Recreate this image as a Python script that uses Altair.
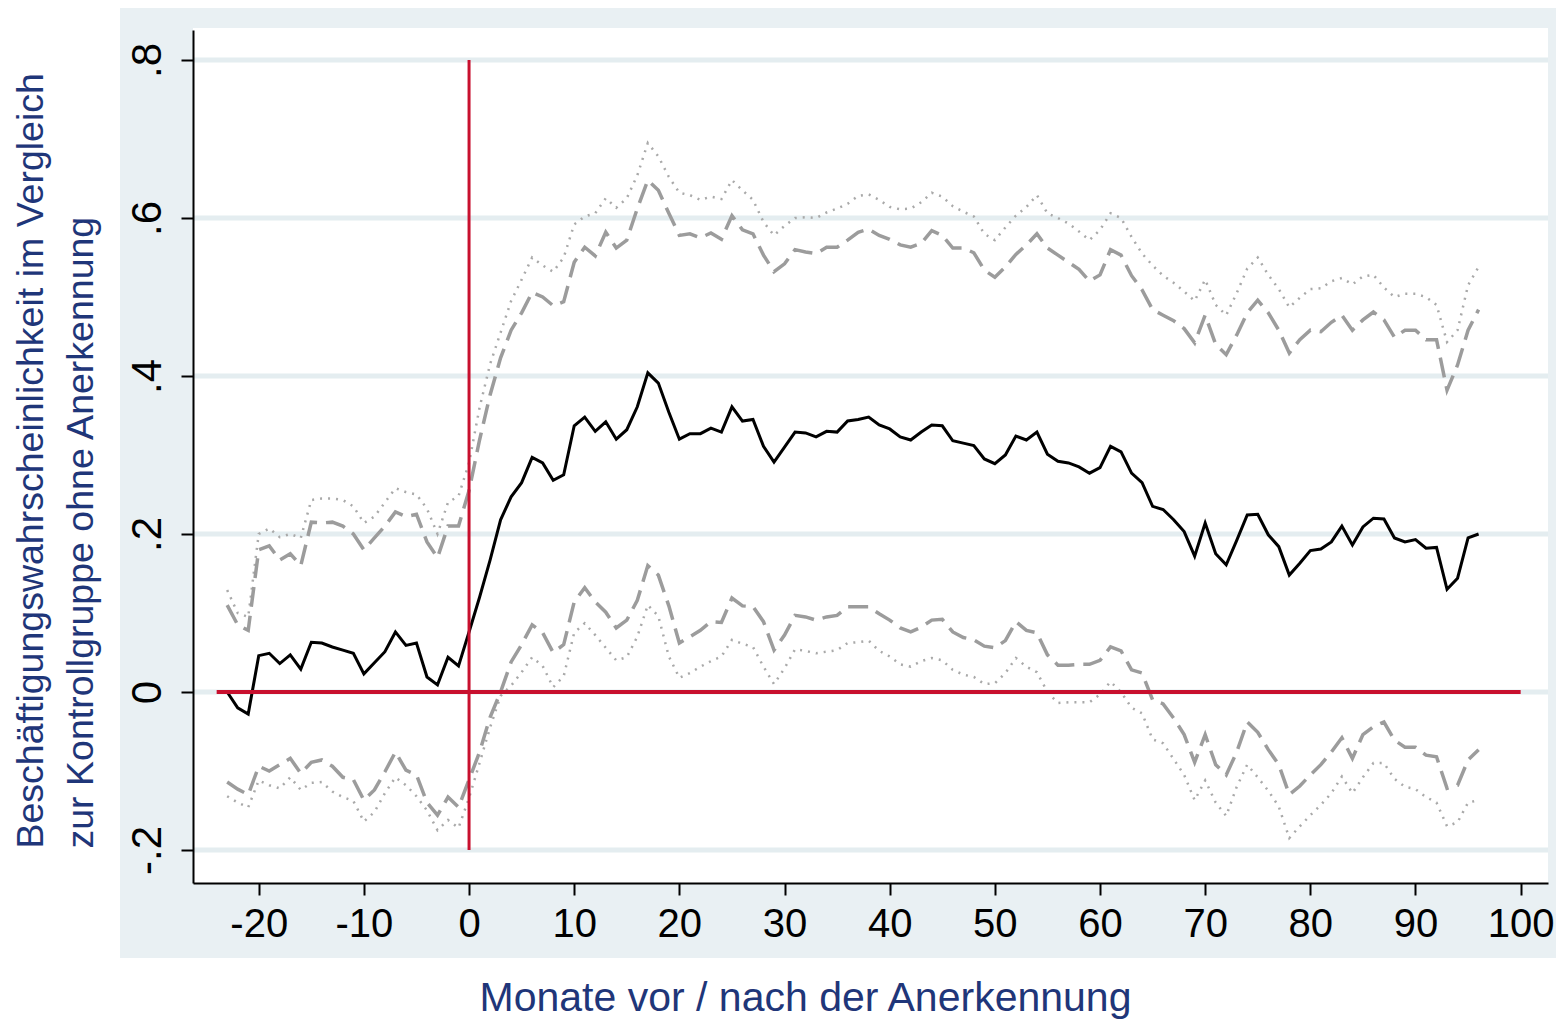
import altair as alt
import pandas as pd

# ---------------- data ----------------
months = list(range(-23, 97))

main = [0.0, -0.02, -0.028, 0.046, 0.049, 0.036, 0.047, 0.029, 0.063, 0.062,
        0.057, 0.053, 0.049, 0.023, 0.037, 0.051, 0.076, 0.059, 0.062, 0.019,
        0.009, 0.044, 0.033, 0.076, 0.12, 0.167, 0.218, 0.247, 0.265, 0.297,
        0.29, 0.268, 0.275, 0.337, 0.348, 0.33, 0.342, 0.32, 0.332, 0.361,
        0.404, 0.391, 0.354, 0.32, 0.327, 0.327, 0.334, 0.329, 0.361, 0.343,
        0.345, 0.311, 0.291, 0.31, 0.329, 0.328, 0.323, 0.33, 0.329, 0.343,
        0.345, 0.348, 0.338, 0.333, 0.323, 0.319, 0.329, 0.338, 0.337, 0.318,
        0.315, 0.312, 0.295, 0.289, 0.3, 0.324, 0.319, 0.329, 0.301, 0.292,
        0.29, 0.285, 0.277, 0.284, 0.311, 0.304, 0.277, 0.265, 0.235, 0.231,
        0.218, 0.203, 0.172, 0.214, 0.175, 0.161, 0.192, 0.224, 0.225, 0.199,
        0.184, 0.148, 0.163, 0.179, 0.181, 0.19, 0.21, 0.186, 0.209, 0.22,
        0.219, 0.195, 0.19, 0.193, 0.182, 0.183, 0.13, 0.144, 0.195, 0.2]

hi90 = [0.11, 0.085, 0.078, 0.18, 0.185, 0.167, 0.175, 0.16, 0.215, 0.214,
        0.215, 0.21, 0.2, 0.18, 0.195, 0.21, 0.228, 0.222, 0.225, 0.19,
        0.17, 0.21, 0.21, 0.255, 0.319, 0.376, 0.423, 0.458, 0.48, 0.506,
        0.5, 0.489, 0.494, 0.544, 0.563, 0.552, 0.582, 0.562, 0.572, 0.612,
        0.648, 0.635, 0.606, 0.578, 0.58, 0.575, 0.581, 0.573, 0.603, 0.585,
        0.58, 0.553, 0.532, 0.542, 0.56, 0.557, 0.555, 0.563, 0.563, 0.572,
        0.582, 0.586, 0.578, 0.573, 0.566, 0.563, 0.568, 0.584, 0.578, 0.562,
        0.562, 0.556, 0.534, 0.525, 0.538, 0.554, 0.566, 0.58, 0.562, 0.553,
        0.544, 0.535, 0.52, 0.528, 0.56, 0.553, 0.527, 0.509, 0.484, 0.477,
        0.47, 0.46, 0.442, 0.477, 0.44, 0.427, 0.452, 0.48, 0.496, 0.48,
        0.458, 0.429, 0.446, 0.458, 0.456, 0.468, 0.477, 0.458, 0.471, 0.481,
        0.471, 0.449, 0.458, 0.458, 0.446, 0.446, 0.382, 0.414, 0.458, 0.484]

hi95 = [0.129, 0.1, 0.095, 0.2, 0.207, 0.196, 0.2, 0.195, 0.243, 0.245,
        0.245, 0.243, 0.235, 0.214, 0.222, 0.24, 0.258, 0.253, 0.25, 0.232,
        0.2, 0.24, 0.248, 0.29, 0.36, 0.415, 0.455, 0.495, 0.522, 0.55,
        0.54, 0.532, 0.55, 0.592, 0.602, 0.606, 0.625, 0.613, 0.625, 0.654,
        0.695, 0.678, 0.652, 0.632, 0.629, 0.623, 0.627, 0.624, 0.648, 0.635,
        0.623, 0.595, 0.578, 0.59, 0.6, 0.601, 0.6, 0.607, 0.612, 0.618,
        0.628, 0.63, 0.623, 0.614, 0.611, 0.612, 0.62, 0.632, 0.627, 0.615,
        0.608, 0.602, 0.58, 0.572, 0.588, 0.603, 0.614, 0.629, 0.606, 0.6,
        0.593, 0.583, 0.572, 0.585, 0.606, 0.6, 0.576, 0.555, 0.54, 0.527,
        0.518, 0.507, 0.495, 0.522, 0.49, 0.477, 0.505, 0.536, 0.55, 0.528,
        0.51, 0.487, 0.499, 0.51, 0.511, 0.52, 0.524, 0.516, 0.526, 0.528,
        0.512, 0.5, 0.504, 0.504, 0.5, 0.49, 0.443, 0.458, 0.515, 0.538]

lo90 = [-0.114, -0.123, -0.13, -0.094, -0.1, -0.092, -0.084, -0.103, -0.089, -0.086,
        -0.094, -0.108, -0.111, -0.137, -0.124, -0.101, -0.076, -0.099, -0.105, -0.14,
        -0.156, -0.133, -0.146, -0.111, -0.076, -0.032, 0.0, 0.038, 0.06, 0.085,
        0.075, 0.05, 0.06, 0.114, 0.132, 0.114, 0.101, 0.081, 0.091, 0.116,
        0.16, 0.148, 0.109, 0.062, 0.07, 0.078, 0.089, 0.088, 0.119, 0.109,
        0.108, 0.089, 0.053, 0.072, 0.097, 0.095, 0.091, 0.095, 0.097, 0.108,
        0.108, 0.108, 0.099, 0.091, 0.081, 0.076, 0.082, 0.091, 0.092, 0.076,
        0.069, 0.066, 0.058, 0.056, 0.065, 0.089, 0.078, 0.075, 0.047, 0.034,
        0.034, 0.035, 0.035, 0.04, 0.057, 0.052, 0.028, 0.024, -0.01, -0.015,
        -0.033, -0.054, -0.089, -0.054, -0.092, -0.105, -0.076, -0.038, -0.051, -0.073,
        -0.092, -0.13, -0.119, -0.105, -0.092, -0.076, -0.058, -0.084, -0.054, -0.044,
        -0.038, -0.061, -0.07, -0.07, -0.08, -0.082, -0.122, -0.118, -0.086, -0.073]

lo95 = [-0.132, -0.14, -0.146, -0.112, -0.118, -0.122, -0.108, -0.124, -0.115, -0.114,
        -0.126, -0.133, -0.138, -0.164, -0.152, -0.128, -0.108, -0.118, -0.132, -0.15,
        -0.175, -0.162, -0.172, -0.134, -0.09, -0.045, -0.005, 0.008, 0.025, 0.044,
        0.033, 0.006, 0.02, 0.075, 0.087, 0.072, 0.056, 0.04, 0.044, 0.07,
        0.11, 0.096, 0.045, 0.018, 0.024, 0.032, 0.039, 0.045, 0.066, 0.061,
        0.057, 0.032, 0.01, 0.03, 0.054, 0.052, 0.049, 0.051, 0.053, 0.062,
        0.063, 0.065, 0.052, 0.045, 0.035, 0.032, 0.039, 0.043, 0.04, 0.028,
        0.022, 0.019, 0.01, 0.011, 0.024, 0.043, 0.032, 0.025, 0.0, -0.014,
        -0.013, -0.013, -0.013, -0.003, 0.013, 0.0, -0.02, -0.027, -0.06, -0.065,
        -0.085, -0.105, -0.137, -0.112, -0.14, -0.157, -0.12, -0.092, -0.108, -0.125,
        -0.145, -0.185, -0.17, -0.156, -0.143, -0.128, -0.107, -0.128, -0.108, -0.09,
        -0.09, -0.11, -0.12, -0.123, -0.133, -0.14, -0.17, -0.165, -0.14, -0.137]

x_ticks = list(range(-20, 101, 10))
x_labels = [str(v) for v in x_ticks]
y_ticks = [-0.2, 0.0, 0.2, 0.4, 0.6, 0.8]
y_labels = ["-.2", "0", ".2", ".4", ".6", ".8"]

x_title = "Monate vor / nach der Anerkennung"
y_title = ["Beschäftigungswahrscheinlichkeit im Vergleich",
           "zur Kontrollgruppe ohne Anerkennung"]

ref_v = {"month": [0], "value": [-0.2], "value2": [0.8]}
ref_h = {"month": [-24], "month2": [100], "value": [0.0]}

# ---------------- layout / style ----------------
W, H = 1355, 853
NAVY = "#1f3679"
RED = "#c8102e"
BAND = "#e9f0f3"
GRID = "#e4edf0"
TICKFONT = "Liberation Sans Narrow, Liberation Sans, Arial"


def label_expr(ticks, labels):
    expr = "''"
    for t, l in reversed(list(zip(ticks, labels))):
        expr = f"abs(datum.value - ({t})) < 0.001 ? '{l}' : ({expr})"
    return expr


x_enc = alt.X(
    "month:Q",
    scale=alt.Scale(domain=[-26.25, 102.6], nice=False, zero=False),
    axis=alt.Axis(
        values=x_ticks, labelExpr=label_expr(x_ticks, x_labels), grid=False,
        title=x_title, titleX=612, titleY=127, titleAlign="center",
        titleBaseline="alphabetic", titleFontSize=41, titleColor=NAVY,
        titleFont="Liberation Sans", titleFontWeight="normal",
        labelFont=TICKFONT, labelFontSize=40, labelColor="black",
        labelPadding=9, labelFlush=False, labelOverlap=False,
        tickSize=12, tickWidth=2, tickColor="black",
        domainColor="black", domainWidth=2, zindex=1,
    ),
)
y_enc = alt.Y(
    "value:Q",
    scale=alt.Scale(domain=[-0.2418, 0.838], nice=False, zero=False),
    axis=alt.Axis(
        values=y_ticks, labelExpr=label_expr(y_ticks, y_labels), grid=False,
        title=y_title, titleAngle=270, titleAlign="left", titleBaseline="top",
        titleX=-181, titleY=818, titleLineHeight=50, titleFontSize=37.5,
        titleColor=NAVY, titleFont="Liberation Sans", titleFontWeight="normal",
        labelFont=TICKFONT, labelFontSize=42, labelColor="black",
        labelAngle=270, labelAlign="center", labelBaseline="bottom",
        labelPadding=12, labelFlush=False, labelOverlap=False,
        tickSize=12, tickWidth=2, tickColor="black",
        domainColor="black", domainWidth=2, zindex=1,
    ),
)

one = pd.DataFrame({"k": [0]})

band = alt.Chart(one).mark_rect(color=BAND).encode(
    x=alt.value(-73), x2=alt.value(W + 8), y=alt.value(-22), y2=alt.value(928))
white = alt.Chart(one).mark_rect(color="white").encode(
    x=alt.value(0), x2=alt.value(W), y=alt.value(-2), y2=alt.value(H))

grid = alt.Chart(pd.DataFrame({"value": y_ticks})).mark_rule(
    color=GRID, strokeWidth=5).encode(y=y_enc, x=alt.value(0), x2=alt.value(W))


def series_line(vals, color, width, dash=None):
    df = pd.DataFrame({"month": months, "value": vals})
    kw = dict(color=color, strokeWidth=width, interpolate="linear")
    if dash:
        kw["strokeDash"] = dash
    return alt.Chart(df).mark_line(**kw).encode(x=x_enc, y=y_enc)


l_hi95 = series_line(hi95, "#a9a9a9", 2.5, [2, 6])
l_lo95 = series_line(lo95, "#a9a9a9", 2.5, [2, 6])
l_hi90 = series_line(hi90, "#9c9c9c", 3.5, [20, 9])
l_lo90 = series_line(lo90, "#9c9c9c", 3.5, [20, 9])
l_main = series_line(main, "black", 3)

vline = alt.Chart(pd.DataFrame(ref_v)).mark_rule(color=RED, strokeWidth=3).encode(
    x=x_enc, y=y_enc, y2="value2:Q")
hline = alt.Chart(pd.DataFrame(ref_h)).mark_rule(color=RED, strokeWidth=4).encode(
    x=x_enc, x2="month2:Q", y=y_enc)

chart = alt.layer(
    band, white, grid, l_hi95, l_lo95, l_hi90, l_lo90, l_main, vline, hline
).properties(
    width=W, height=H,
    autosize=alt.AutoSizeParams(type="none"),
    padding={"left": 185, "top": 22, "right": 8, "bottom": 139},
    background="white",
).configure_view(strokeWidth=0)

chart.save("out.html", embed_options={"renderer": "svg", "actions": False})
